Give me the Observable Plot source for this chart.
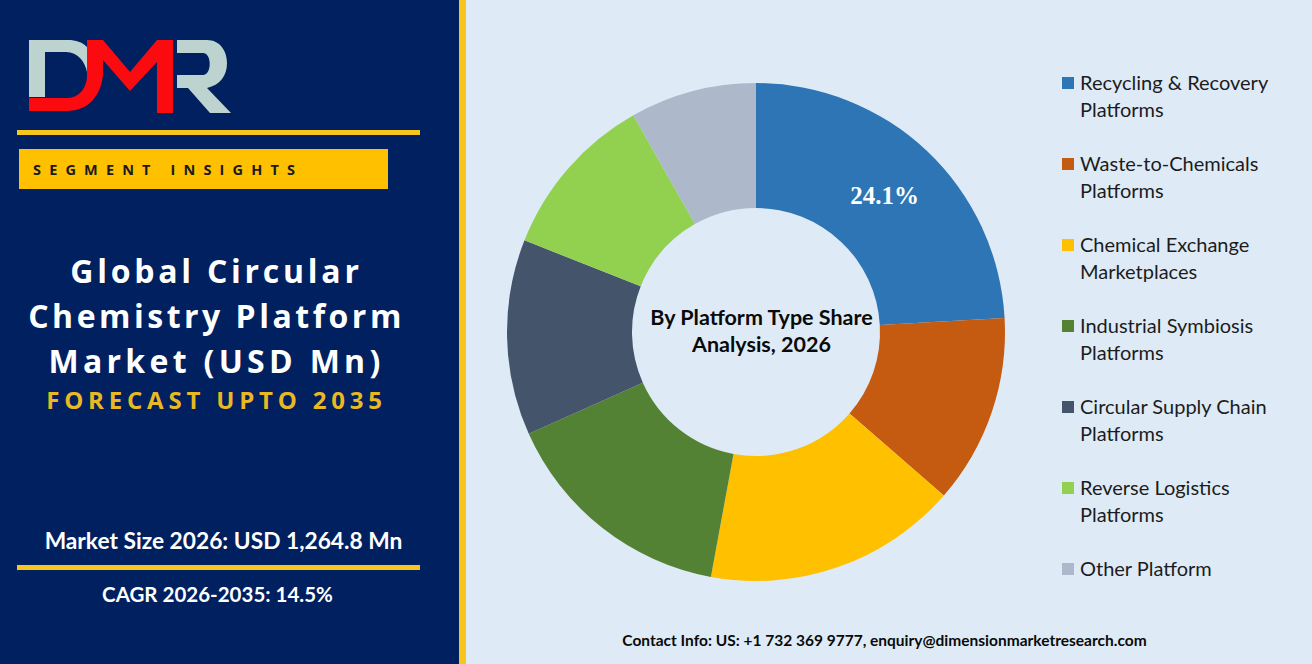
<!DOCTYPE html>
<html>
<head>
<meta charset="utf-8">
<script src="https://cdn.jsdelivr.net/npm/d3@7"></script>
<script src="https://cdn.jsdelivr.net/npm/@observablehq/plot@0.6"></script>
<style>
  html,body{margin:0;padding:0;width:1312px;height:664px;overflow:hidden;background:#deebf7;font-family:Lato,sans-serif;}
  .abs{position:absolute;white-space:nowrap;}
  #panel{left:0;top:0;width:459px;height:664px;background:#002060;}
  #strip{left:459px;top:0;width:7px;height:664px;background:#f8c51c;}
  .rule{left:17px;width:403px;height:5px;background:#f8c51c;}
  #tag{left:19px;top:149px;width:369px;height:40px;background:#ffc000;}
  #tagText{left:33px;top:161px;font:700 14.5px/18px "Open Sans",sans-serif;letter-spacing:8.15px;color:#1a1a1a;}
  .title{left:0;width:433px;text-align:center;color:#fff;font:700 32px/45px "Open Sans",sans-serif;}
  #forecast{left:0;width:433px;text-align:center;top:384px;color:#e8b923;font:700 24px/32px "Open Sans",sans-serif;letter-spacing:4.8px;}
  .stat{text-align:center;color:#fff;font-weight:700;font-family:Lato,sans-serif;}
  #chart{left:468px;top:0;}
  #contact{left:462px;width:845px;text-align:center;top:630px;font:700 15.5px/20px Lato,sans-serif;color:#0a0a0a;}
  #legend .sw{position:absolute;width:12px;height:12px;}
  #legend .lb{position:absolute;font:400 20px/26.5px Lato,sans-serif;color:#1c1c1c;white-space:pre;}
</style>
</head>
<body>
<div class="abs" id="panel"></div>
<div class="abs" id="strip"></div>
<svg class="abs" style="left:0;top:0" width="260" height="125" viewBox="0 0 260 125" id="logo">
  <path fill="#bcd3d0" d="M29,40H68C76,40 82,42 87,47V72C85,62 78,52 66,52H45V97H29Z"/>
  <path fill="#bcd3d0" d="M177,40H207C220,40 227,51 227,63C227,76 220,85 207,88L231,113H210L188,88H177V75H203C212,75 212,53 203,53H177Z"/>
  <path fill="#fb0a10" d="M87,40H103L130,72L157,40H173V113H157V62L130,91L103,60V75C101,96 88,111 67,111H29V98H67C79,98 87,88 87,75Z"/>
</svg>
<div class="abs rule" style="top:130px"></div>
<div class="abs" id="tag"></div>
<div class="abs" id="tagText">SEGMENT INSIGHTS</div>
<div class="abs title" style="top:247.5px;letter-spacing:3.75px">Global Circular</div>
<div class="abs title" style="top:293px;letter-spacing:3.5px">Chemistry Platform</div>
<div class="abs title" style="top:337.5px;letter-spacing:4.3px">Market (USD Mn)</div>
<div class="abs" id="forecast">FORECAST UPTO 2035</div>
<div class="abs stat" style="left:7px;width:433px;top:527px;font-size:22.75px;line-height:28px">Market Size 2026: USD 1,264.8 Mn</div>
<div class="abs rule" style="top:565px"></div>
<div class="abs stat" style="left:1px;width:433px;top:580px;font-size:20.5px;line-height:28px">CAGR 2026-2035: 14.5%</div>
<div class="abs" id="chart"></div>
<div id="legend"></div>
<div class="abs" id="contact">Contact Info: US: +1 732 369 9777, enquiry@dimensionmarketresearch.com</div>
<script>
const platforms = [
  "Recycling & Recovery\nPlatforms",
  "Waste-to-Chemicals\nPlatforms",
  "Chemical Exchange\nMarketplaces",
  "Industrial Symbiosis\nPlatforms",
  "Circular Supply Chain\nPlatforms",
  "Reverse Logistics\nPlatforms",
  "Other Platform"
];
const shares = [24.1, 12.3, 16.5, 15.4, 12.7, 10.8, 8.2];
const colors = ["#2e75b6", "#c55a11", "#ffc000", "#548235", "#44546a", "#92d050", "#adb9ca"];
const shownLabels = ["24.1%", "", "", "", "", "", ""];
const centerLabel = "By Platform Type Share\nAnalysis, 2026";

const rows = platforms.map((platform, i) => ({platform, share: shares[i], label: shownLabels[i]}));
const outerRadius = 249, innerRadius = 124;
const arc = d3.arc().innerRadius(innerRadius).outerRadius(outerRadius);

const chart = Plot.plot({
  width: 576, height: 664,
  margin: 0,
  style: {background: "transparent"},
  x: {domain: [0, 100], range: [0, 2 * Math.PI], axis: null},
  color: {domain: platforms, range: colors},
  marks: [
    Plot.barX(rows, Plot.stackX({
      x: "share", fill: "platform",
      render(index, scales, values, dims) {
        const g = d3.create("svg:g").attr("transform", `translate(${dims.width / 2},${dims.height / 2})`);
        g.selectAll("path").data(index).join("path")
          .attr("d", i => arc({startAngle: values.x1[i], endAngle: values.x2[i]}))
          .attr("fill", i => values.fill[i]);
        return g.node();
      }
    })),
    Plot.text(rows, Plot.stackX({
      x: "share", text: "label", fill: "#fff", fontSize: 25, fontWeight: 700, dy: -1,
      fontFamily: "Liberation Serif, serif",
      render(index, scales, values, dims, context, next) {
        const r = (innerRadius + outerRadius) / 2;
        const X = Array.from(values.x, a => dims.width / 2 + r * Math.sin(a));
        const Y = Array.from(values.x, a => dims.height / 2 - r * Math.cos(a));
        return next(index, scales, {...values, x: X, y: Y}, dims, context);
      }
    })),
    Plot.text([centerLabel], {
      text: d => d, frameAnchor: "middle", fontSize: 21.5, fontWeight: 700, dx: 5, dy: -2.5,
      fontFamily: "Lato, sans-serif", fill: "#0a0a0a", lineHeight: 1.25
    })
  ]
});
document.getElementById("chart").appendChild(chart);

const legend = d3.select("#legend");
platforms.forEach((p, i) => {
  const top = 69 + i * 81;
  legend.append("div").attr("class", "sw").style("left", "1062px").style("top", `${top + 8}px`).style("background", colors[i]);
  legend.append("div").attr("class", "lb").style("left", "1080px").style("top", `${top}px`).text(p);
});
</script>
</body>
</html>
